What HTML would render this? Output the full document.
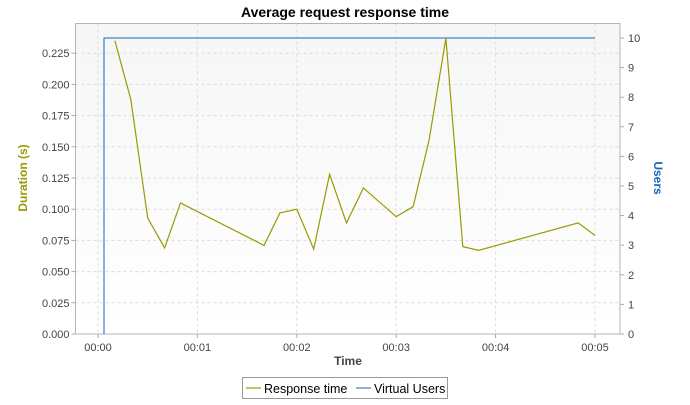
<!DOCTYPE html>
<html><head><meta charset="utf-8"><style>
body{margin:0;background:#fff;width:690px;height:400px;overflow:hidden;font-family:"Liberation Sans",sans-serif}
</style></head><body>
<svg id="c" width="690" height="400" xmlns="http://www.w3.org/2000/svg">
<defs><linearGradient id="bg" x1="0" y1="0" x2="0" y2="1"><stop offset="0" stop-color="#f6f6f6"/><stop offset="1" stop-color="#ffffff"/></linearGradient></defs>
</svg>
<script>
const respTimes=[0.17,0.33,0.5,0.67,0.83,1.67,1.83,2.0,2.17,2.33,2.5,2.67,3.0,3.17,3.33,3.5,3.67,3.83,4.83,5.0];
const respValues=[0.235,0.188,0.093,0.069,0.105,0.071,0.097,0.100,0.068,0.128,0.089,0.117,0.094,0.102,0.155,0.237,0.070,0.067,0.089,0.079];
const userTimes=[0.06,0.06,5.0];
const userValues=[0,10,10];
const xTicks=[0,1,2,3,4,5];
const xTickLabels=["00:00","00:01","00:02","00:03","00:04","00:05"];
const yTicks=[0,0.025,0.05,0.075,0.1,0.125,0.15,0.175,0.2,0.225];
const y2Ticks=[0,1,2,3,4,5,6,7,8,9,10];
const L=75.5,R=620,T=23.5,B=334;
const X=t=>98+t*99.4;
const Y=v=>B-v/0.025*31.2;
const Y2=v=>B-v*29.6;
const svg=document.getElementById('c');const NS='http://www.w3.org/2000/svg';
function mk(tag,a,txt){const e=document.createElementNS(NS,tag);for(const k in a)e.setAttribute(k,a[k]);if(txt!=null)e.textContent=txt;svg.appendChild(e);return e;}
let e;
e=mk('rect',{x:L,y:T,width:R-L,height:B-T,fill:'url(#bg)',stroke:'none'});


xTicks.forEach((t,i)=>{
 e=mk('line',{x1:X(t),x2:X(t),y1:T,y2:B,stroke:'#dcdcdc','stroke-dasharray':'3,3'});
 
 
 mk('line',{x1:X(t),x2:X(t),y1:B,y2:B+4,stroke:'#aaa'});
 e=mk('text',{x:X(t),y:B+17,'font-size':'11','text-anchor':'middle',fill:'#444'},xTickLabels[i]);
 
 
});
yTicks.forEach(v=>{
 e=mk('line',{x1:L,x2:R,y1:Y(v),y2:Y(v),stroke:'#dcdcdc','stroke-dasharray':'3,3'});
 
 
 mk('line',{x1:L-4,x2:L,y1:Y(v),y2:Y(v),stroke:'#aaa'});
 e=mk('text',{x:L-6,y:Y(v)+4,'font-size':'11','text-anchor':'end',fill:'#444'},v.toFixed(3));
 
 
});
y2Ticks.forEach(v=>{
 mk('line',{x1:R,x2:R+4,y1:Y2(v),y2:Y2(v),stroke:'#aaa'});
 e=mk('text',{x:R+8,y:Y2(v)+4,'font-size':'11','text-anchor':'start',fill:'#444'},String(v));
 
 
});
mk('path',{d:`M${L},${T}V${B}H${R}V${T}H${L}`,fill:'none',stroke:'#b4b4b4'});
e=mk('polyline',{points:userTimes.map((t,i)=>X(t)+','+Y2(userValues[i])).join(' '),fill:'none',stroke:'#1565c0','stroke-width':'1','shape-rendering':'crispEdges'});


e=mk('polyline',{points:respTimes.map((t,i)=>X(t)+','+Y(respValues[i])).join(' '),fill:'none',stroke:'#9a9a00','stroke-width':'1.2'});


e=mk('text',{x:345,y:17,'font-size':'14','font-weight':'bold','text-anchor':'middle',fill:'#000'},'Average request response time');


e=mk('text',{x:348,y:365,'font-size':'12','font-weight':'bold','text-anchor':'middle',fill:'#444'},'Time');


e=mk('text',{x:0,y:0,'font-size':'12','font-weight':'bold','text-anchor':'middle',fill:'#9a9a00',transform:'translate(27,178) rotate(-90)'},'Duration (s)');


e=mk('text',{x:0,y:0,'font-size':'12','font-weight':'bold','text-anchor':'middle',fill:'#1565c0',transform:'translate(654,178) rotate(90)'},'Users');


e=mk('rect',{x:242.5,y:377.5,width:205,height:21,fill:'#fff',stroke:'#999'});


mk('line',{x1:246,x2:261,y1:388,y2:388,stroke:'#9a9a00','stroke-width':'1.2'});
e=mk('text',{x:264,y:393,'font-size':'12.5',fill:'#000'},'Response time');


mk('line',{x1:356,x2:371,y1:388,y2:388,stroke:'#1565c0','stroke-width':'1'});
e=mk('text',{x:374,y:393,'font-size':'12.5',fill:'#000'},'Virtual Users');


</script>
</body></html>
